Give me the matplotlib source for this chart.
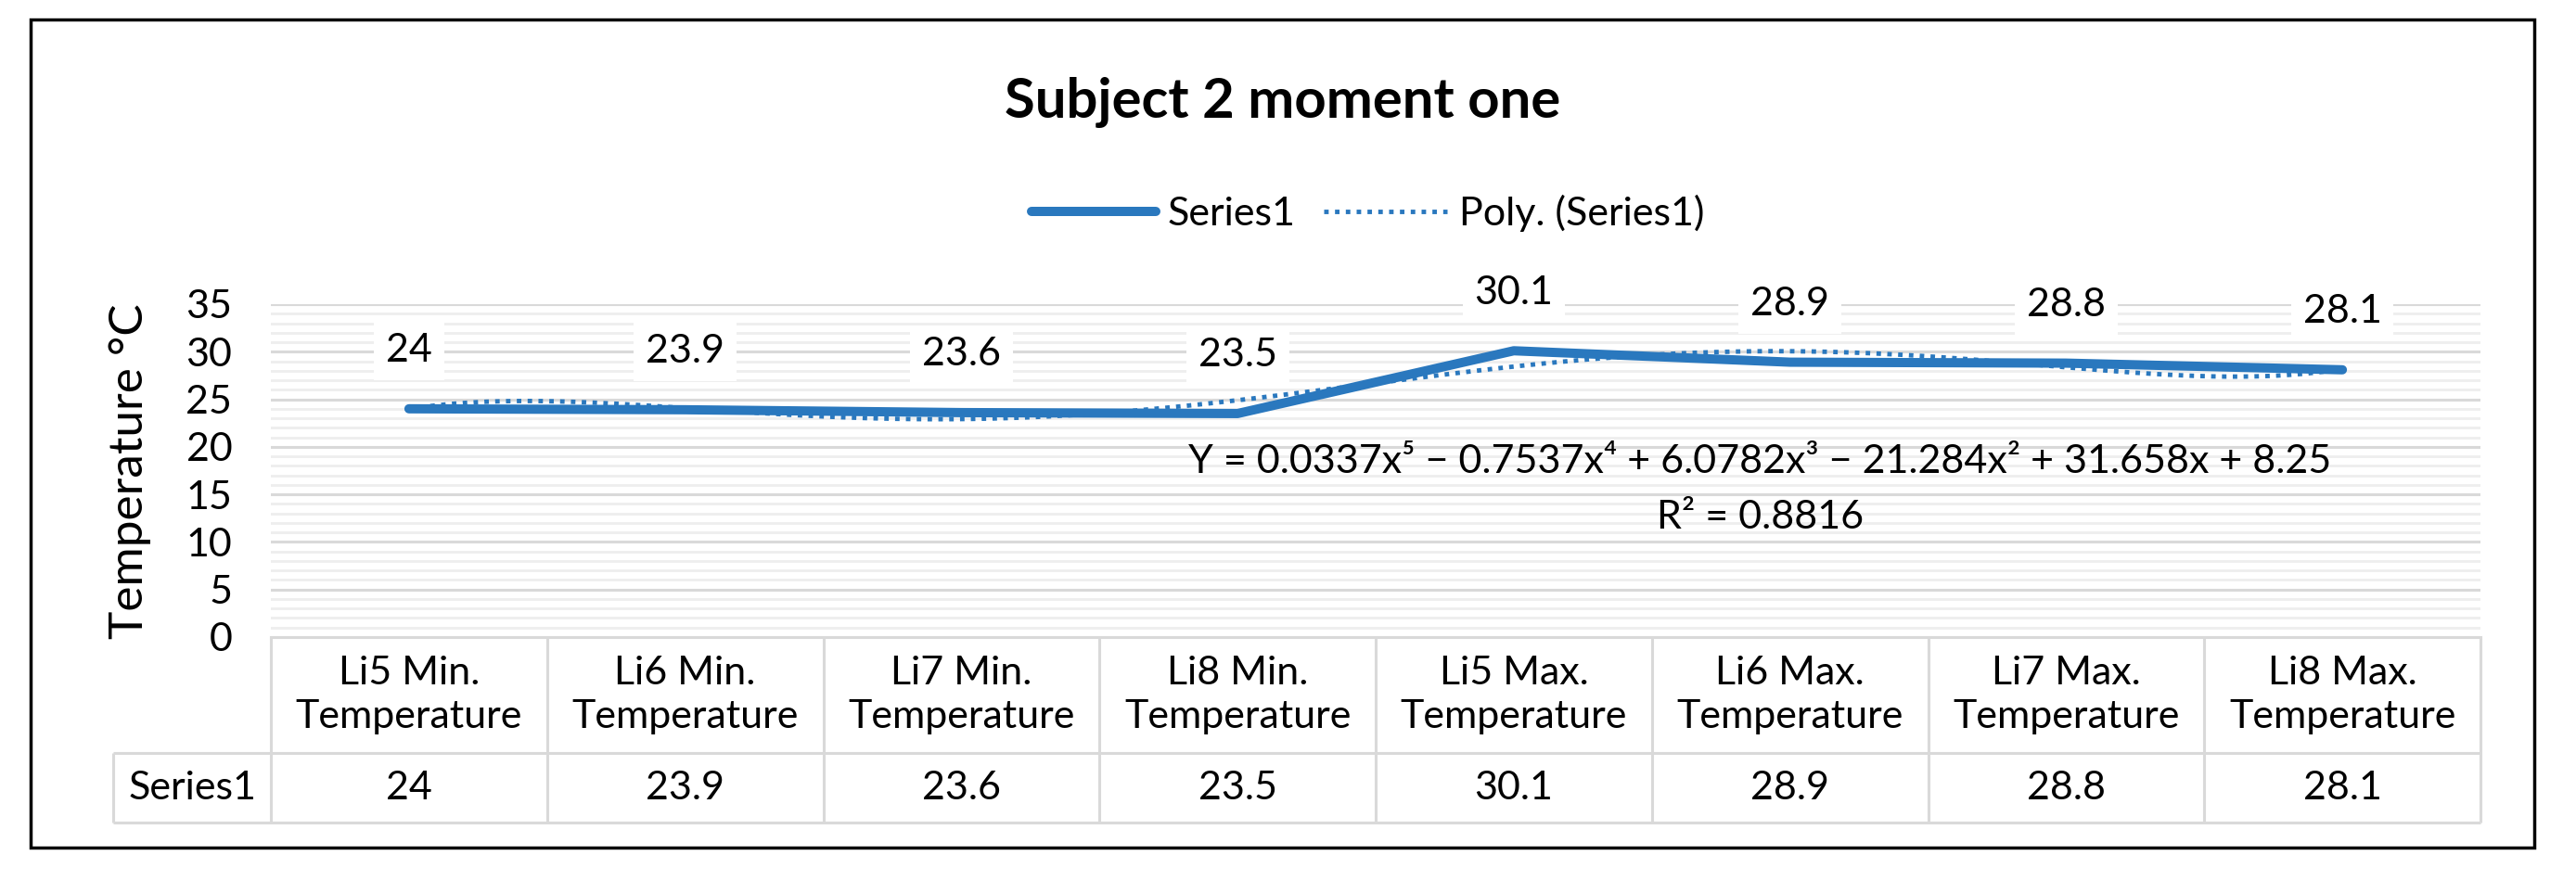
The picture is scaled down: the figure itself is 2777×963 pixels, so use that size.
import numpy as np
import matplotlib.pyplot as plt
from matplotlib.patches import Rectangle
from matplotlib.ticker import MultipleLocator

# data
categories = ["Li5 Min.\nTemperature", "Li6 Min.\nTemperature", "Li7 Min.\nTemperature",
              "Li8 Min.\nTemperature", "Li5 Max.\nTemperature", "Li6 Max.\nTemperature",
              "Li7 Max.\nTemperature", "Li8 Max.\nTemperature"]
series1 = [24, 23.9, 23.6, 23.5, 30.1, 28.9, 28.8, 28.1]
value_labels = ["24", "23.9", "23.6", "23.5", "30.1", "28.9", "28.8", "28.1"]
y_ticks = [0, 5, 10, 15, 20, 25, 30, 35]
equation = "Y = 0.0337x⁵ − 0.7537x⁴ + 6.0782x³ − 21.284x² + 31.658x + 8.25"
r_squared = "R² = 0.8816"

plt.rcParams['font.family'] = ['Lato', 'DejaVu Sans']

W, H = 2777, 963
blue = '#2A78BE'
grid_major = '#D9D9D9'
grid_minor = '#EEEEEE'
fs = 31

fig = plt.figure(figsize=(W / 100, H / 100), dpi=100)

x = np.arange(1, len(series1) + 1)

# main plot area
ax = fig.add_axes([292 / W, 1 - 687 / H, 2382 / W, 359 / H])
ax.plot(x, series1, color=blue, lw=7.2, solid_capstyle='round', solid_joinstyle='round',
        label='Series1', zorder=3)

# 5th order polynomial trendline (like Excel)
coef = np.polyfit(x, series1, 5)
xs = np.linspace(1, len(series1), 300)
ax.plot(xs, np.polyval(coef, xs), color=blue, lw=3.5, ls=(0, (1, 1.4)),
        label='Poly. (Series1)', zorder=4)

for xi, v, s in zip(x, series1, value_labels):
    ax.annotate(s, (xi, v), xytext=(0, 45), textcoords='offset points', ha='center', va='center',
                fontsize=fs, bbox=dict(boxstyle='square,pad=0.3', fc='white', ec='none'), zorder=5)

ax.text(0.674, 18.4 / 35, equation, transform=ax.transAxes, ha='center', va='center', fontsize=fs)
ax.text(0.674, 12.6 / 35, r_squared, transform=ax.transAxes, ha='center', va='center', fontsize=fs)

ax.set_xlim(0.5, len(series1) + 0.5)
ax.set_ylim(0, 35)
ax.set_yticks(y_ticks)
ax.yaxis.set_minor_locator(MultipleLocator(1))
ax.set_xticks([])
ax.grid(which='minor', axis='y', color=grid_minor, lw=2)
ax.grid(which='major', axis='y', color=grid_major, lw=2.2)
ax.set_axisbelow(True)
ax.tick_params(axis='y', which='both', length=0, labelsize=fs, pad=30)
for s in ['top', 'right', 'left']:
    ax.spines[s].set_visible(False)
ax.spines['bottom'].set_color(grid_major)
ax.spines['bottom'].set_linewidth(2.2)

# data table under the plot
left = 0.5 - 170 / 297.75
tab = fig.add_axes([122 / W, 1 - 887 / H, (2674 - 122) / W, 200 / H])
tab.set_xlim(left, len(series1) + 0.5)
tab.set_ylim(0, 200)
tab.axis('off')
edges = np.arange(0.5, len(series1) + 1, 1)
tab.vlines(edges, 0, 200, color=grid_major, lw=2.2, clip_on=False)
tab.vlines(left, 0, 75, color=grid_major, lw=2.2, clip_on=False)
tab.hlines([0, 75], left, len(series1) + 0.5, color=grid_major, lw=2.2, clip_on=False)
for xi, c, s in zip(x, categories, value_labels):
    tab.text(xi, 137.5, c, ha='center', va='center', fontsize=fs, linespacing=1.3)
    tab.text(xi, 37.5, s, ha='center', va='center', fontsize=fs)
tab.text((left + 0.5) / 2, 37.5, 'Series1', ha='center', va='center', fontsize=fs)

# titles, legend, frame
fig.text(1383 / W, 1 - 110 / H, "Subject 2 moment one", ha='center', va='center',
         fontsize=43, fontweight='bold')
fig.text(140 / W, 1 - 508 / H, "Temperature °C", rotation=90, ha='center', va='center', fontsize=37)
fig.legend(*ax.get_legend_handles_labels(), loc='center', bbox_to_anchor=(1475 / W, 1 - 230 / H),
           ncol=2, frameon=False, fontsize=fs, handlelength=3.1, columnspacing=0.7, handletextpad=0.3)
fig.add_artist(Rectangle((33 / W, 1 - 914 / H), (2732 - 33) / W, (914 - 21) / H,
                         transform=fig.transFigure, fill=False, ec='black', lw=2.5))

fig.savefig('out.png', dpi=100)
